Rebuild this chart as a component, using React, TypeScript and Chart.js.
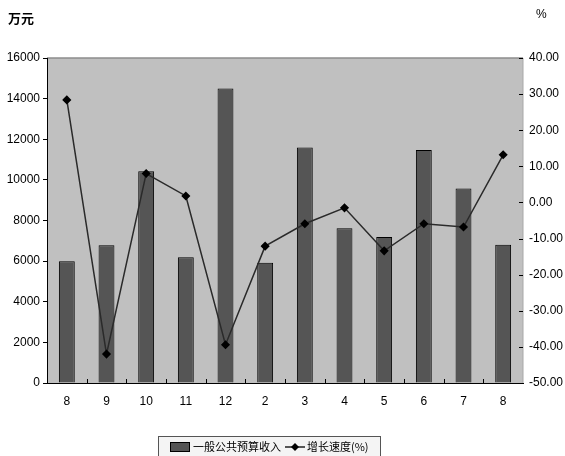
import React, { useEffect, useRef } from "react";
import { Chart, registerables } from "chart.js";

Chart.register(...registerables);

const categories = ["8", "9", "10", "11", "12", "2", "3", "4", "5", "6", "7", "8"];
const revenue = [6000, 6780, 10420, 6190, 14500, 5920, 11590, 7620, 7190, 11470, 9570, 6810];
const growth = [28.4, -42.0, 8.0, 1.8, -39.4, -12.1, -5.9, -1.5, -13.4, -5.9, -6.8, 13.2];
const revenueLabel = "一般公共预算收入";
const growthLabel = "增长速度(%)";
const leftUnit = "万元";
const rightUnit = "%";

const FONT = "'Liberation Sans', Arial, sans-serif";
const CJK = "'Noto Sans CJK SC', sans-serif";

const decorPlugin = {
  id: "decor",
  beforeDraw(chart: any) {
    const { ctx, chartArea: a } = chart;
    ctx.save();
    ctx.fillStyle = "#c0c0c0";
    ctx.fillRect(a.left, a.top, a.right - a.left, a.bottom - a.top);
    ctx.strokeStyle = "#8c8c8c";
    ctx.lineWidth = 1.5;
    ctx.beginPath();
    ctx.moveTo(a.left, a.top);
    ctx.lineTo(a.right, a.top);
    ctx.stroke();
    ctx.strokeStyle = "#a8a8a8";
    ctx.lineWidth = 1;
    ctx.beginPath();
    ctx.moveTo(a.right, a.top);
    ctx.lineTo(a.right, a.bottom);
    ctx.stroke();
    ctx.restore();
  },
  afterDatasetsDraw(chart: any) {
    const { ctx, chartArea: a, scales } = chart;
    ctx.save();
    ctx.strokeStyle = "#000";
    ctx.lineWidth = 1;
    const n = categories.length;
    const w = (a.right - a.left) / n;
    ctx.beginPath();
    for (let i = 1; i < n; i++) {
      const x = Math.round(a.left + w * i) + 0.5;
      ctx.moveTo(x, a.bottom);
      ctx.lineTo(x, a.bottom - 4);
    }
    const y1 = scales.y1;
    y1.ticks.forEach((t: any) => {
      const y = Math.round(y1.getPixelForValue(t.value)) + 0.5;
      ctx.moveTo(a.right - 4, y);
      ctx.lineTo(a.right, y);
    });
    ctx.stroke();
    ctx.restore();
  },
  afterDraw(chart: any) {
    const { ctx } = chart;
    ctx.save();
    ctx.fillStyle = "#000";
    ctx.font = `bold 13px ${CJK}`;
    ctx.textBaseline = "middle";
    ctx.textAlign = "left";
    ctx.fillText(leftUnit, 8, 18);
    ctx.font = `12px ${FONT}`;
    ctx.fillText(rightUnit, 536, 15);

    const lx = 158, ly = 436, lw = 222, lh = 26;
    ctx.fillStyle = "#f4f4f4";
    ctx.fillRect(lx, ly, lw, lh);
    ctx.strokeStyle = "#555";
    ctx.lineWidth = 1;
    ctx.strokeRect(lx + 0.5, ly + 0.5, lw, lh);
    const cy = 447;
    ctx.fillStyle = "#555";
    ctx.fillRect(170, cy - 5, 20, 10);
    ctx.strokeStyle = "#000";
    ctx.strokeRect(170.5, cy - 4.5, 19, 9);
    ctx.fillStyle = "#000";
    ctx.font = `11px ${CJK}`;
    ctx.textBaseline = "middle";
    ctx.fillText(revenueLabel, 193, cy);
    ctx.strokeStyle = "#222";
    ctx.lineWidth = 1.5;
    ctx.beginPath();
    ctx.moveTo(285, cy);
    ctx.lineTo(305, cy);
    ctx.stroke();
    ctx.fillStyle = "#000";
    ctx.beginPath();
    ctx.moveTo(295, cy - 4);
    ctx.lineTo(299, cy);
    ctx.lineTo(295, cy + 4);
    ctx.lineTo(291, cy);
    ctx.closePath();
    ctx.fill();
    ctx.fillText(growthLabel, 307, cy);
    ctx.restore();
  },
};

export default function App() {
  const ref = useRef<HTMLCanvasElement>(null);
  useEffect(() => {
    document.body.style.margin = "0";
    const chart = new Chart(ref.current!, {
      type: "bar",
      data: {
        labels: categories,
        datasets: [
          {
            type: "line",
            label: growthLabel,
            data: growth,
            yAxisID: "y1",
            borderColor: "#2a2a2a",
            borderWidth: 1.5,
            pointStyle: "rectRot",
            pointRadius: 3.5,
            pointBackgroundColor: "#000",
            pointBorderColor: "#000",
            tension: 0,
            order: 0,
          } as any,
          {
            type: "bar",
            label: revenueLabel,
            data: revenue,
            yAxisID: "y",
            backgroundColor: "#555555",
            borderColor: "#000",
            borderWidth: 1,
            barPercentage: 0.4,
            categoryPercentage: 1,
            order: 1,
          },
        ],
      },
      options: {
        responsive: false,
        animation: false,
        layout: { padding: { top: 58, left: 0, right: 0, bottom: 0 } },
        plugins: { legend: { display: false }, tooltip: { enabled: false } },
        scales: {
          x: {
            offset: true,
            grid: { display: true, drawOnChartArea: false, drawTicks: false },
            border: { display: true, color: "#000", width: 1 },
            ticks: { color: "#000", font: { family: FONT, size: 12 }, padding: 11, maxRotation: 0 },
            afterFit(s: any) { s.height = 73; },
          },
          y: {
            position: "left",
            min: 0,
            max: 16000,
            ticks: {
              stepSize: 2000,
              color: "#000",
              font: { family: FONT, size: 12 },
              padding: 3,
              callback: (v: any) => String(v),
            },
            grid: { drawOnChartArea: false, drawTicks: true, tickLength: 4, color: "#000" },
            border: { display: true, color: "#000", width: 1 },
            afterFit(s: any) { s.width = 47; },
          },
          y1: {
            position: "right",
            min: -50,
            max: 40,
            ticks: {
              stepSize: 10,
              color: "#000",
              font: { family: FONT, size: 12 },
              padding: 2,
              callback: (v: any) => Number(v).toFixed(2),
            },
            grid: { drawOnChartArea: false, drawTicks: true, tickLength: 4, color: "rgba(0,0,0,0)" },
            border: { display: false },
            afterFit(s: any) { s.width = 42; },
          },
        },
      },
      plugins: [decorPlugin],
    });
    return () => chart.destroy();
  }, []);
  return (
    <div style={{ width: 565, height: 456, position: "relative", background: "#fff" }}>
      <canvas ref={ref} width={565} height={456} />
    </div>
  );
}
